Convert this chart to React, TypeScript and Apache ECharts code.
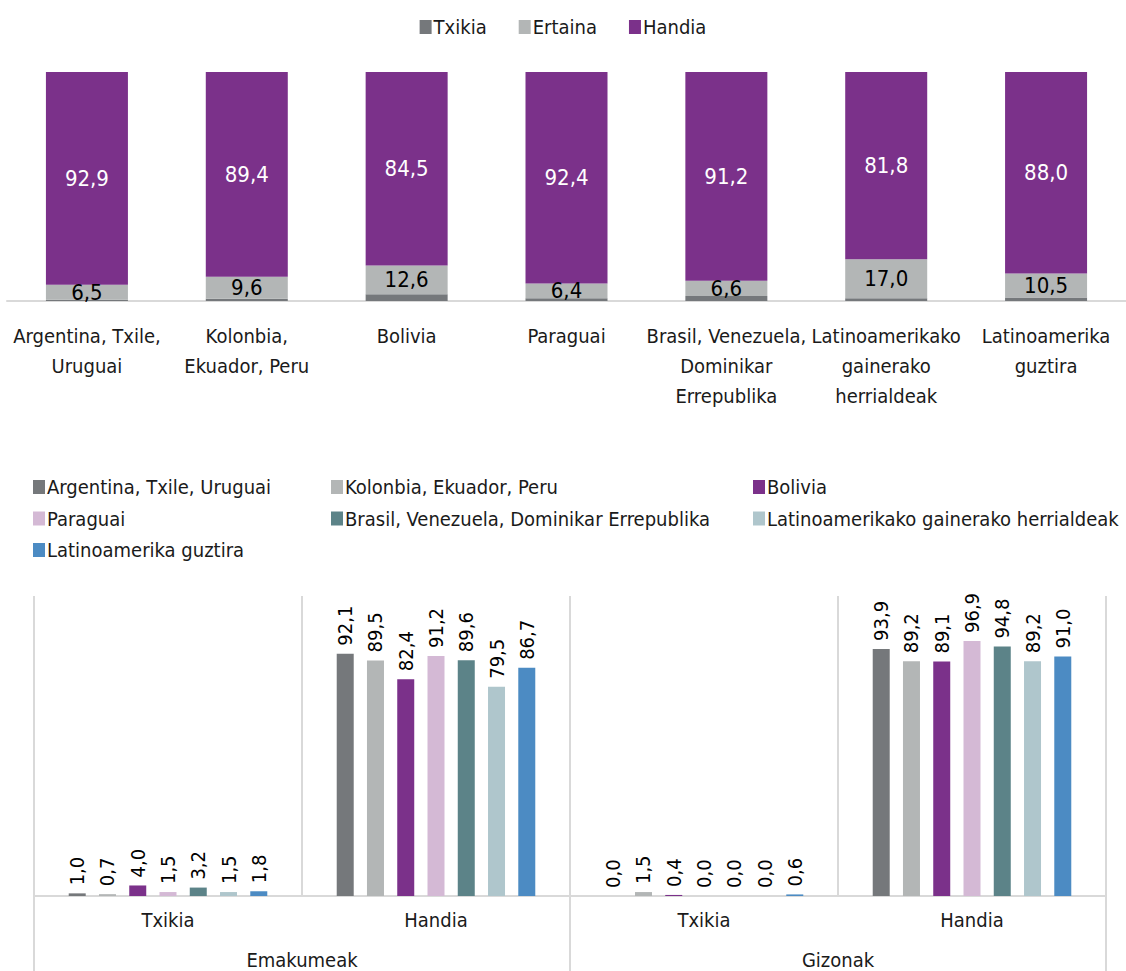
import React, { useEffect, useRef } from "react";
import * as echarts from "echarts";

const FONT = "'Liberation Sans Narrow', 'DejaVu Sans Condensed', 'Roboto Condensed', sans-serif";

// Top chart
const topCategories = [
  "Argentina, Txile,\nUruguai",
  "Kolonbia,\nEkuador, Peru",
  "Bolivia",
  "Paraguai",
  "Brasil, Venezuela,\nDominikar\nErrepublika",
  "Latinoamerikako\ngainerako\nherrialdeak",
  "Latinoamerika\nguztira",
];
const topTxikia = [0.6, 1.0, 2.9, 1.2, 2.2, 1.2, 1.5];
const topErtaina = [6.5, 9.6, 12.6, 6.4, 6.6, 17.0, 10.5];
const topHandia = [92.9, 89.4, 84.5, 92.4, 91.2, 81.8, 88.0];

// Bottom chart
const innerCategories = ["Txikia", "Handia", "Txikia", "Handia"];
const outerCategories = ["Emakumeak", "Gizonak"];
const regionNames = [
  "Argentina, Txile, Uruguai",
  "Kolonbia, Ekuador, Peru",
  "Bolivia",
  "Paraguai",
  "Brasil, Venezuela, Dominikar Errepublika",
  "Latinoamerikako gainerako herrialdeak",
  "Latinoamerika guztira",
];
const argentina = [1.0, 92.1, 0.0, 93.9];
const kolonbia = [0.7, 89.5, 1.5, 89.2];
const bolivia = [4.0, 82.4, 0.4, 89.1];
const paraguai = [1.5, 91.2, 0.0, 96.9];
const brasil = [3.2, 89.6, 0.0, 94.8];
const gainerako = [1.5, 79.5, 0.0, 89.2];
const guztira = [1.8, 86.7, 0.6, 91.0];
const regionValues = [argentina, kolonbia, bolivia, paraguai, brasil, gainerako, guztira];
const regionColors = ["#75787b", "#b3b6b6", "#7b318a", "#d4b9d5", "#5c8388", "#afc6cc", "#4c8bc3"];

const fmt = (v: number) => v.toFixed(1).replace(".", ",");
const LINE = "#d9d9d9";

export default function App() {
  const ref = useRef<HTMLDivElement>(null);
  useEffect(() => {
    if (!ref.current) return;
    const chart = echarts.init(ref.current, null, { renderer: "svg" });
    const txt = { fontFamily: FONT, fontSize: 20, color: "#1a1a1a" };
    const bottomSeries = regionNames.map((name, i) => ({
      name,
      type: "bar",
      xAxisIndex: 1,
      yAxisIndex: 1,
      data: regionValues[i],
      barWidth: 17,
      barGap: "78%",
      itemStyle: { color: regionColors[i] },
      label: {
        show: true,
        position: "top",
        rotate: 90,
        align: "left",
        verticalAlign: "middle",
        distance: 8,
        formatter: (p: any) => fmt(p.value),
        ...txt,
        color: "#000",
      },
    }));
    const legendCol = (data: string[], left: number) => ({
      data,
      orient: "vertical",
      left,
      top: 472,
      itemWidth: 12,
      itemHeight: 14,
      itemGap: 11.5,
      icon: "rect",
      textStyle: { ...txt, padding: [0, 0, 0, -3] },
    });
    chart.setOption({
      animation: false,
      textStyle: { fontFamily: FONT },
      legend: [
        {
          data: ["Txikia", "Ertaina", "Handia"],
          top: 12,
          left: "center",
          itemWidth: 12,
          itemHeight: 14,
          itemGap: 32,
          icon: "rect",
          textStyle: { ...txt, padding: [0, 0, 0, -3] },
        },
        legendCol([regionNames[0], regionNames[3], regionNames[6]], 28),
        legendCol([regionNames[1], regionNames[4]], 326),
        legendCol([regionNames[2], regionNames[5]], 748),
      ],
      grid: [
        { left: 7, width: 1129, top: 72, height: 229, containLabel: false },
        { left: 34, width: 1072, top: 596, height: 300, containLabel: false },
      ],
      xAxis: [
        {
          type: "category",
          gridIndex: 0,
          data: topCategories,
          axisLine: { lineStyle: { color: LINE, width: 2 } },
          axisTick: { show: false },
          axisLabel: { ...txt, margin: 20, lineHeight: 30, interval: 0 },
        },
        {
          type: "category",
          gridIndex: 1,
          data: innerCategories,
          axisLine: { lineStyle: { color: LINE, width: 2 } },
          axisTick: { show: false },
          splitLine: { show: true, lineStyle: { color: LINE, width: 2 } },
          axisLabel: { ...txt, margin: 14, interval: 0 },
        },
        {
          type: "category",
          gridIndex: 1,
          position: "bottom",
          data: outerCategories,
          axisLine: { show: false },
          axisTick: { show: true, length: 76, interval: 0, lineStyle: { color: LINE, width: 2 } },
          axisLabel: { ...txt, margin: 54, interval: 0 },
        },
      ],
      yAxis: [
        { type: "value", gridIndex: 0, min: 0, max: 100, show: false },
        { type: "value", gridIndex: 1, min: 0, max: 114, show: false },
      ],
      series: [
        {
          name: "Txikia",
          type: "bar",
          stack: "a",
          data: topTxikia,
          barWidth: 82,
          itemStyle: { color: "#75787b" },
        },
        {
          name: "Ertaina",
          type: "bar",
          stack: "a",
          data: topErtaina,
          barWidth: 82,
          itemStyle: { color: "#b3b6b6" },
          label: {
            show: true,
            position: "inside",
            formatter: (p: any) => fmt(p.value),
            ...txt,
            fontSize: 22,
            color: "#000",
          },
        },
        {
          name: "Handia",
          type: "bar",
          stack: "a",
          data: topHandia,
          barWidth: 82,
          itemStyle: { color: "#7b318a" },
          label: {
            show: true,
            position: "inside",
            formatter: (p: any) => fmt(p.value),
            ...txt,
            fontSize: 22,
            color: "#fff",
          },
        },
        ...bottomSeries,
      ],
    });
    return () => chart.dispose();
  }, []);
  return (
    <div
      ref={ref}
      style={{ position: "absolute", left: 0, top: 0, width: 1126, height: 971, background: "#fff" }}
    />
  );
}
